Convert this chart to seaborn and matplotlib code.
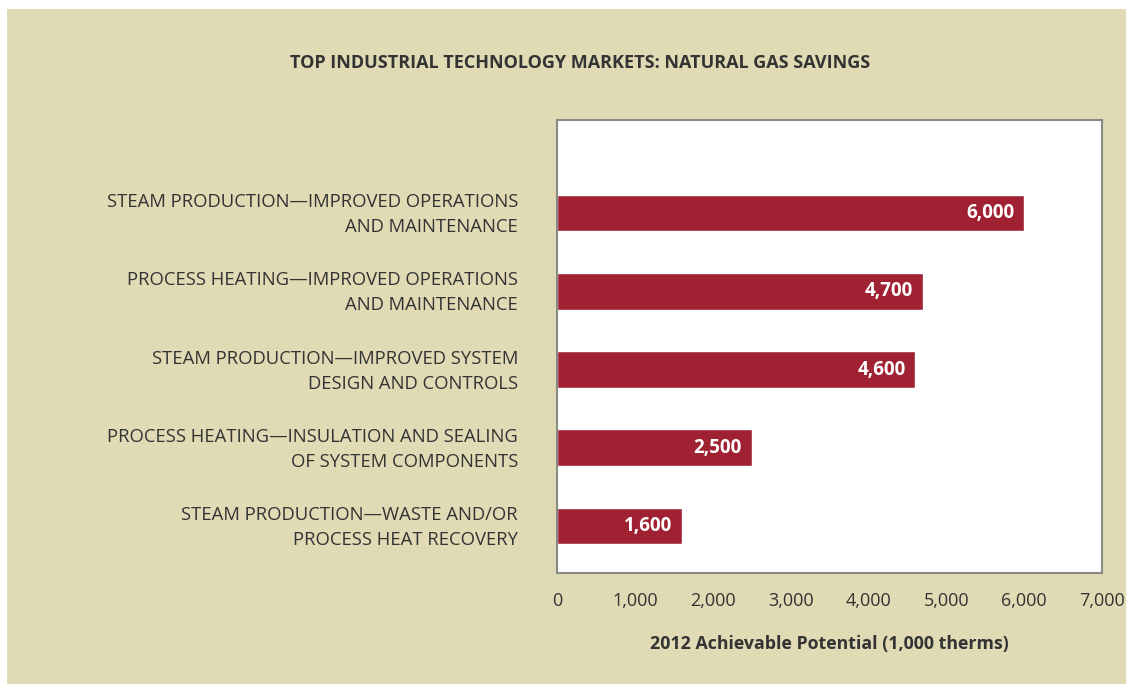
import numpy as np
import pandas as pd
import seaborn as sns
import matplotlib.pyplot as plt
from matplotlib.patches import Rectangle
from matplotlib.ticker import FuncFormatter
from matplotlib.transforms import ScaledTranslation

categories = [
    'STEAM PRODUCTION\u2014IMPROVED OPERATIONS\nAND MAINTENANCE',
    'PROCESS HEATING\u2014IMPROVED OPERATIONS\nAND MAINTENANCE',
    'STEAM PRODUCTION\u2014IMPROVED SYSTEM\nDESIGN AND CONTROLS',
    'PROCESS HEATING\u2014INSULATION AND SEALING\nOF SYSTEM COMPONENTS',
    'STEAM PRODUCTION\u2014WASTE AND/OR\nPROCESS HEAT RECOVERY',
]
savings = [6000, 4700, 4600, 2500, 1600]
x_ticks = [0, 1000, 2000, 3000, 4000, 5000, 6000, 7000]

beige = '#E0DBB5'
bar_red = '#A02232'
text_col = '#333333'

sns.set_style('white')
plt.rcParams['font.family'] = ['Open Sans', 'DejaVu Sans']

df = pd.DataFrame({'cat': categories, 'val': savings})

W, H = 1126, 684
fig = plt.figure(figsize=(W / 100, H / 100), dpi=100, facecolor='white')
fig.patches.append(Rectangle((7 / W, 0), 1 - 7 / W, 1 - 9 / H, transform=fig.transFigure,
                             facecolor=beige, edgecolor='none', zorder=-5))

ax = fig.add_axes([557 / W, 1 - 573 / H, (1102 - 557) / W, (573 - 120) / H])
ax.set_facecolor('white')

sns.barplot(data=df, x='val', y='cat', color=bar_red, width=0.47, saturation=1, ax=ax, orient='h')

ax.set_xlim(0, 7000)
ax.set_ylim(4.6, -1.19)
ax.set_xticks(x_ticks)
ax.xaxis.set_major_formatter(FuncFormatter(lambda v, p: f'{int(v):,}'))
ax.tick_params(axis='x', length=0, pad=14, labelsize=13, labelcolor=text_col)
ax.tick_params(axis='y', length=0, pad=28, labelsize=13.3, labelcolor=text_col)
shift_up = ScaledTranslation(0, 4 / 100, fig.dpi_scale_trans)
for lab in ax.get_yticklabels():
    lab.set_linespacing(1.5)
    lab.set_horizontalalignment('right')
    lab.set_transform(lab.get_transform() + shift_up)

for s in ax.spines.values():
    s.set_visible(True)
    s.set_color('#8a8a85')
    s.set_linewidth(1.5)

ax.set_ylabel('')
ax.set_xlabel('2012 Achievable Potential (1,000 therms)', fontsize=12.75, fontweight='bold',
              color=text_col, labelpad=18)

for i, v in enumerate(savings):
    ax.text(v - 125, i, f'{v:,}', ha='right', va='center', color='white',
            fontsize=13.5, fontweight='bold')

fig.text(580 / W, 1 - 63 / H, 'TOP INDUSTRIAL TECHNOLOGY MARKETS: NATURAL GAS SAVINGS',
         ha='center', va='center', fontsize=13, fontweight='bold', color=text_col)

fig.savefig('out.png', dpi=100, facecolor=fig.get_facecolor())
